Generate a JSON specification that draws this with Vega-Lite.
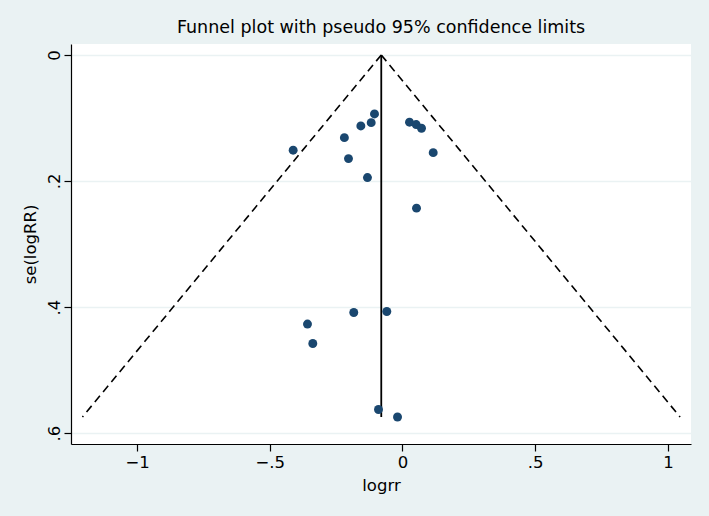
{
  "$schema": "https://vega.github.io/schema/vega-lite/v6.json",
  "width": 620,
  "height": 400,
  "autosize": {"type": "none"},
  "padding": {"left": 71, "top": 44, "right": 18, "bottom": 72},
  "background": "#EAF2F3",
  "title": {
    "text": "Funnel plot with pseudo 95% confidence limits",
    "font": "DejaVu Sans",
    "fontSize": 17.5,
    "fontWeight": "normal",
    "color": "#000000",
    "anchor": "middle",
    "offset": 8
  },
  "config": {
    "view": {"fill": "#FFFFFF", "stroke": null},
    "axis": {
      "domainColor": "#000000",
      "domainWidth": 1.2,
      "tickColor": "#000000",
      "tickWidth": 1.2,
      "tickSize": 7,
      "labelFont": "DejaVu Sans",
      "labelFontSize": 16.5,
      "labelColor": "#000000",
      "titleFont": "DejaVu Sans",
      "titleFontSize": 16.5,
      "titleFontWeight": "normal",
      "titleColor": "#000000",
      "gridColor": "#EAF2F3",
      "gridWidth": 1.5
    }
  },
  "datasets": {
    "studies": [
      {"logrr": -0.1055, "se": 0.0936},
      {"logrr": -0.118, "se": 0.1074},
      {"logrr": -0.157, "se": 0.1126},
      {"logrr": -0.219, "se": 0.1312},
      {"logrr": -0.412, "se": 0.1511},
      {"logrr": -0.2035, "se": 0.1645},
      {"logrr": -0.132, "se": 0.1946},
      {"logrr": 0.0264, "se": 0.1067},
      {"logrr": 0.0516, "se": 0.1105},
      {"logrr": 0.0716, "se": 0.1163},
      {"logrr": 0.1157, "se": 0.155},
      {"logrr": 0.0528, "se": 0.2431},
      {"logrr": -0.1836, "se": 0.4087},
      {"logrr": -0.0592, "se": 0.4071},
      {"logrr": -0.358, "se": 0.4271},
      {"logrr": -0.338, "se": 0.4579},
      {"logrr": -0.0905, "se": 0.5626},
      {"logrr": -0.0188, "se": 0.5746}
    ],
    "limits": [
      {"side": "lower", "logrr": -1.206, "se": 0.5746},
      {"side": "lower", "logrr": -0.08, "se": 0},
      {"side": "upper", "logrr": -0.08, "se": 0},
      {"side": "upper", "logrr": 1.046, "se": 0.5746}
    ],
    "pooled": [
      {"logrr": -0.08, "se": 0},
      {"logrr": -0.08, "se": 0.5746}
    ]
  },
  "layer": [
    {
      "data": {"name": "limits"},
      "mark": {"type": "line", "color": "#000000", "strokeWidth": 1.6, "strokeDash": [8, 5], "clip": true},
      "encoding": {
        "x": {
          "field": "logrr", "type": "quantitative",
          "scale": {"domain": [-1.249, 1.087], "nice": false, "zero": false},
          "axis": {
            "title": "logrr",
            "values": [-1, -0.5, 0, 0.5, 1],
            "grid": false,
            "labelExpr": "replace(format(datum.value, '.1~f'), '0.', '.')",
            "labelPadding": 3,
            "titlePadding": 7
          }
        },
        "y": {
          "field": "se", "type": "quantitative",
          "scale": {"domain": [-0.0174, 0.6174], "nice": false, "zero": false, "reverse": true},
          "axis": {
            "title": "se(logRR)",
            "values": [0, 0.2, 0.4, 0.6],
            "grid": true,
            "labelExpr": "datum.value == 0 ? '0' : replace(format(datum.value, '.1f'), '0.', '.')",
            "labelAngle": 270,
            "labelAlign": "center",
            "labelBaseline": "bottom",
            "labelPadding": 2,
            "titlePadding": 8
          }
        },
        "detail": {"field": "side"},
        "order": {"field": "se"}
      }
    },
    {
      "data": {"name": "pooled"},
      "mark": {"type": "line", "color": "#000000", "strokeWidth": 1.8},
      "encoding": {
        "x": {"field": "logrr", "type": "quantitative"},
        "y": {"field": "se", "type": "quantitative"}
      }
    },
    {
      "data": {"name": "studies"},
      "mark": {"type": "circle", "color": "#1A476F", "opacity": 1, "size": 80},
      "encoding": {
        "x": {"field": "logrr", "type": "quantitative"},
        "y": {"field": "se", "type": "quantitative"}
      }
    }
  ]
}
